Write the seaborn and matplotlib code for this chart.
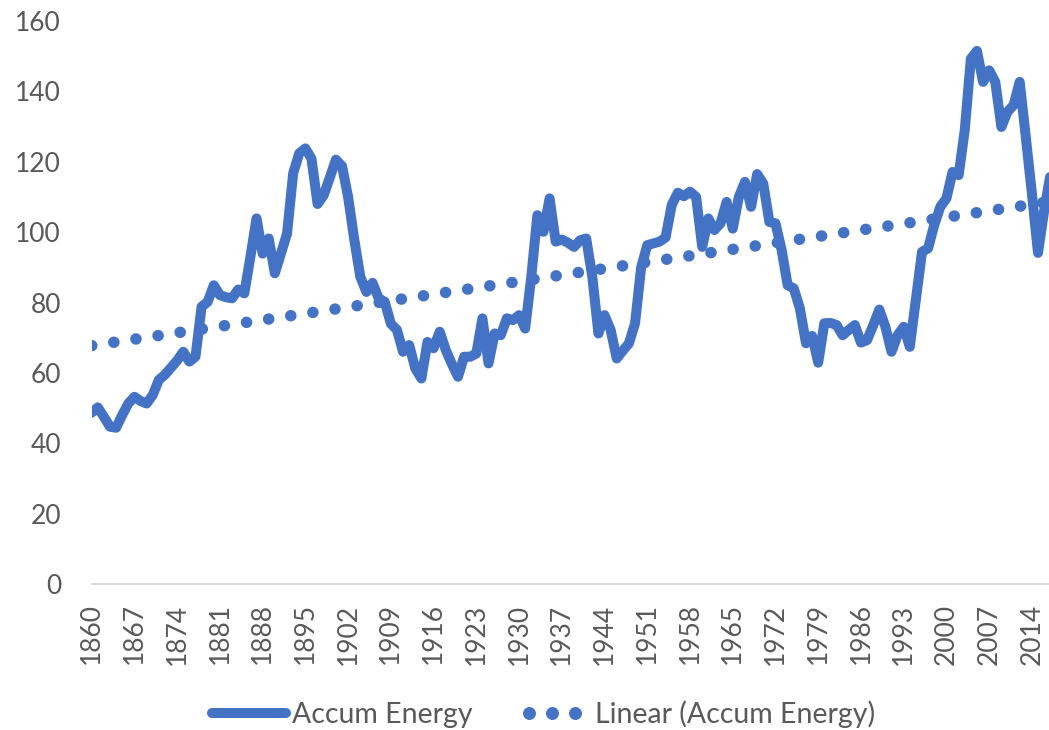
import matplotlib

matplotlib.use("Agg")
import matplotlib.pyplot as plt
import pandas as pd
import seaborn as sns
from matplotlib.legend_handler import HandlerLine2D
from matplotlib.lines import Line2D

# yearly values
years = list(range(1860, 2018))
accum_energy = [
    48.7, 50.2, 47.5, 44.7, 44.4, 48.0, 51.3, 53.2, 52.0, 51.3,  # 1860s
    53.7, 58.0, 59.5, 61.5, 63.5, 66.0, 63.2, 64.6, 78.8, 80.2,  # 1870s
    84.9, 82.1, 81.5, 81.2, 83.7, 82.6, 93.0, 103.9, 93.9, 98.2,  # 1880s
    88.3, 94.0, 99.6, 116.7, 122.4, 123.8, 120.9, 108.0, 110.5, 115.5,  # 1890s
    120.6, 118.8, 110.0, 98.0, 87.3, 83.0, 85.6, 81.2, 80.2, 74.0,  # 1900s
    72.2, 66.0, 67.9, 61.3, 58.4, 68.8, 67.0, 71.7, 66.5, 62.5,  # 1910s
    58.9, 64.6, 64.6, 65.5, 75.5, 62.7, 71.2, 70.7, 75.5, 75.0,  # 1920s
    76.4, 72.6, 87.3, 104.8, 100.1, 109.6, 97.3, 97.9, 97.0, 95.8,  # 1930s
    97.7, 98.2, 87.3, 71.2, 76.4, 72.2, 64.1, 66.3, 68.4, 74.1,  # 1940s
    90.0, 96.3, 96.8, 97.3, 98.5, 107.7, 111.2, 110.2, 111.5, 110.0,  # 1950s
    95.8, 103.9, 100.6, 102.5, 108.6, 101.0, 110.0, 114.3, 107.2, 116.5,  # 1960s
    113.8, 102.9, 102.5, 95.0, 84.9, 84.0, 78.3, 68.4, 70.5, 62.9,  # 1970s
    74.1, 74.2, 73.6, 70.7, 72.2, 73.6, 68.6, 69.3, 73.5, 78.0,  # 1980s
    73.1, 66.0, 70.7, 73.1, 67.4, 81.0, 94.4, 95.4, 102.0, 107.2,  # 1990s
    109.6, 117.1, 116.2, 129.0, 149.3, 151.5, 142.7, 146.0, 142.7, 129.9,  # 2000s
    134.2, 136.1, 142.7, 127.0, 111.0, 94.1, 106.0, 116.0,  # 2010s
]
x_ticks = list(range(1860, 2015, 7))
y_ticks = list(range(0, 161, 20))
series_labels = ["Accum Energy", "Linear (Accum Energy)"]

BLUE = "#4472C4"
GREY = "#595959"
LW = 7.2
TREND_LW = 8.3
TICK_FS = 19
LEGEND_FS = 20.5

sns.set_theme(style="white")
plt.rcParams["font.family"] = ["Lato", "DejaVu Sans"]

df = pd.DataFrame({"year": years, "energy": accum_energy})

fig = plt.figure(figsize=(10.49, 7.30), dpi=100)
ax = fig.add_axes([0.0874, 0.2, 0.9126, 0.7712])

sns.lineplot(
    data=df, x="year", y="energy", color=BLUE, lw=LW,
    estimator=None, solid_joinstyle="round", ax=ax,
)
# Excel-style linear trendline, fitted by seaborn
sns.regplot(
    data=df, x="year", y="energy", scatter=False, ci=None, ax=ax,
    line_kws=dict(color=BLUE, lw=TREND_LW, ls=(0, (0.01, 1.93)), dash_capstyle="round"),
)

ax.set_xlim(1860, 2016.8)
ax.set_ylim(0, 160)
ax.set_xticks(x_ticks)
ax.set_xticklabels([str(t) for t in x_ticks], rotation=90)
ax.set_yticks(y_ticks)
ax.set_xlabel("")
ax.set_ylabel("")
ax.tick_params(axis="x", length=0, pad=14, labelsize=TICK_FS, labelcolor=GREY)
ax.tick_params(axis="y", length=0, pad=22, labelsize=TICK_FS, labelcolor=GREY)
for side in ["left", "right", "top"]:
    ax.spines[side].set_visible(False)
ax.spines["bottom"].set_color("#d9d9d9")
ax.spines["bottom"].set_linewidth(1.5)

handles = [
    Line2D([], [], color=BLUE, lw=LW),
    Line2D([], [], color=BLUE, ls="none", marker="o", ms=TREND_LW),
]
fig.legend(
    handles, series_labels, loc="center", bbox_to_anchor=(0.518, 0.022),
    ncol=2, frameon=False, fontsize=LEGEND_FS, handlelength=2.6, handletextpad=0.2,
    columnspacing=1.5, labelcolor=GREY,
    handler_map={handles[1]: HandlerLine2D(numpoints=3, marker_pad=0.5)},
)

fig.savefig("out.png", dpi=100)
plt.close(fig)
